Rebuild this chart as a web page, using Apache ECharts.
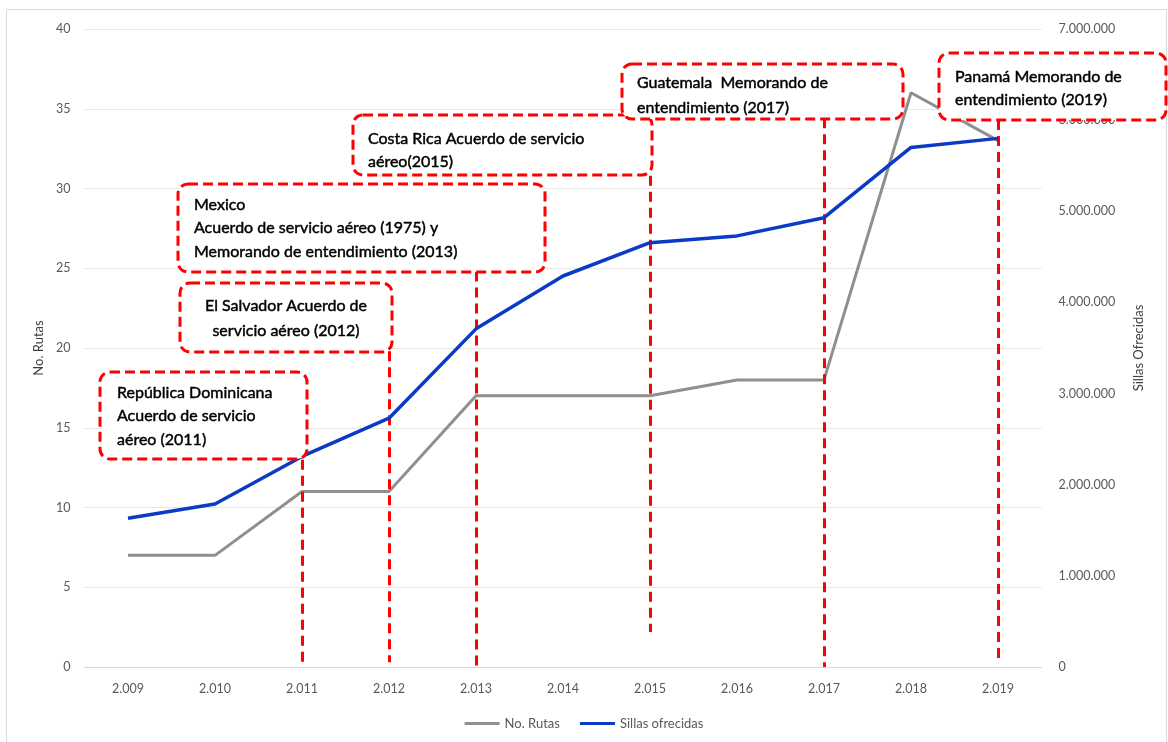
<!DOCTYPE html>
<html>
<head>
<meta charset="utf-8">
<script src="https://cdn.jsdelivr.net/npm/echarts@6/dist/echarts.min.js"></script>
<style>
  html, body { margin: 0; padding: 0; background: #fff; }
  #chart { width: 1168px; height: 742px; }
</style>
</head>
<body>
<div id="chart"></div>
<script>
// Años (con separador de miles, como en el libro de origen)
const years = ['2.009', '2.010', '2.011', '2.012', '2.013', '2.014', '2.015', '2.016', '2.017', '2.018', '2.019'];
// Número de rutas operadas
const rutas = [7, 7, 11, 11, 17, 17, 17, 18, 18, 36, 33];
// Sillas ofrecidas por año
const sillas = [1632000, 1788000, 2310000, 2730000, 3710000, 4290000, 4655000, 4730000, 4930000, 5700000, 5800000];

// Líneas verticales de cada acuerdo: año, y tramo en el eje de rutas
const acuerdoYears = ['2.011', '2.012', '2.013', '2.015', '2.017', '2.019'];
const acuerdoTop = [13, 19.8, 24.8, 30.8, 34.4, 34.3];
const acuerdoBottom = [0, 0.3, 0, 2.2, 0, 0.3];

// Textos de los recuadros
const notaDominicana = ['República Dominicana', 'Acuerdo de servicio', 'aéreo (2011)'];
const notaSalvador = ['El Salvador Acuerdo de', 'servicio aéreo (2012)'];
const notaMexico = ['Mexico', 'Acuerdo de servicio aéreo (1975) y', 'Memorando de entendimiento (2013)'];
const notaCostaRica = ['Costa Rica Acuerdo de servicio', 'aéreo(2015)'];
const notaGuatemala = ['Guatemala  Memorando de', 'entendimiento (2017)'];
const notaPanama = ['Panamá Memorando de', 'entendimiento (2019)'];

const RED = '#ff0000';
const FONT = 'Lato, "Open Sans", sans-serif';

function fmtMiles(v) {
  return String(Math.round(v)).replace(/\B(?=(\d{3})+(?!\d))/g, '.');
}

// Recuadro con borde rojo discontinuo y texto
function nota(box, lines, text) {
  return {
    type: 'group',
    z: 100,
    children: [
      {
        type: 'rect',
        z: 100,
        shape: { x: box[0], y: box[1], width: box[2], height: box[3], r: 10 },
        style: { fill: '#ffffff', stroke: RED, lineWidth: 3, lineDash: [10, 5] }
      },
      {
        type: 'text',
        z: 101,
        style: {
          text: lines.join('\n'),
          x: text[0], y: text[1],
          font: '16px ' + FONT,
          fill: '#000000',
          stroke: '#000000',
          lineWidth: 0.45,
          lineHeight: text[2],
          align: text[3] || 'left',
          verticalAlign: 'top'
        }
      }
    ]
  };
}

const chart = echarts.init(document.getElementById('chart'), null, { renderer: 'canvas' });

const markLineData = acuerdoYears.map((y, i) => [
  { coord: [y, acuerdoTop[i]] },
  { coord: [y, acuerdoBottom[i]] }
]);

chart.setOption({
  backgroundColor: '#ffffff',
  animation: false,
  textStyle: { fontFamily: FONT },
  grid: { left: 84.5, right: 126.5, top: 29, bottom: 75, containLabel: false },
  legend: {
    bottom: 7,
    left: 'center',
    itemWidth: 35,
    itemHeight: 3,
    itemGap: 20,
    icon: 'rect',
    textStyle: { color: '#595959', fontSize: 13, fontFamily: FONT },
    data: ['No. Rutas', 'Sillas ofrecidas']
  },
  xAxis: {
    type: 'category',
    data: years,
    boundaryGap: true,
    axisLine: { show: true, lineStyle: { color: '#d9d9d9', width: 1 } },
    axisTick: { show: false },
    axisLabel: { color: '#595959', fontSize: 12.5, margin: 15 }
  },
  yAxis: [
    {
      type: 'value',
      min: 0, max: 40, interval: 5,
      name: 'No. Rutas',
      nameLocation: 'middle',
      nameGap: 38,
      nameRotate: 90,
      nameTextStyle: { color: '#404040', fontSize: 13 },
      axisLine: { show: false },
      axisTick: { show: false },
      axisLabel: { color: '#595959', fontSize: 12.5, margin: 14 },
      splitLine: { lineStyle: { color: '#e6e6e6', width: 1 } }
    },
    {
      type: 'value',
      min: 0, max: 7000000, interval: 1000000,
      name: 'Sillas Ofrecidas',
      nameLocation: 'middle',
      nameGap: 91,
      nameRotate: 90,
      nameTextStyle: { color: '#404040', fontSize: 13 },
      axisLine: { show: false },
      axisTick: { show: false },
      axisLabel: { color: '#595959', fontSize: 12.5, margin: 17, formatter: fmtMiles },
      splitLine: { show: false }
    }
  ],
  series: [
    {
      name: 'No. Rutas',
      type: 'line',
      yAxisIndex: 0,
      data: rutas,
      symbol: 'none',
      color: '#8f8f8f',
      lineStyle: { color: '#8f8f8f', width: 3 },
      z: 3,
      markLine: {
        silent: true,
        symbol: ['none', 'none'],
        label: { show: false },
        lineStyle: { color: RED, width: 3, type: [10, 6], opacity: 1 },
        data: markLineData,
        z: 4
      }
    },
    {
      name: 'Sillas ofrecidas',
      type: 'line',
      yAxisIndex: 1,
      data: sillas,
      symbol: 'none',
      color: '#0b3bc4',
      lineStyle: { color: '#0b3bc4', width: 3.5 },
      z: 5
    }
  ],
  graphic: [
    {
      type: 'rect',
      z: -1,
      silent: true,
      shape: { x: 6.5, y: 9.5, width: 1160, height: 745 },
      style: { fill: 'none', stroke: '#d9d9d9', lineWidth: 1 }
    },
    nota([100, 372, 207, 87], notaDominicana, [117, 381, 23.5]),
    nota([180, 283, 212, 69], notaSalvador, [286, 293, 25, 'center']),
    nota([178, 184, 367, 88], notaMexico, [194, 193, 23.5]),
    nota([353, 115, 299, 60], notaCostaRica, [368, 127.5, 23]),
    nota([622, 64, 281, 55], notaGuatemala, [637, 71, 24.5]),
    nota([939, 53, 227, 67], notaPanama, [955, 65.5, 23])
  ]
});
</script>
</body>
</html>
